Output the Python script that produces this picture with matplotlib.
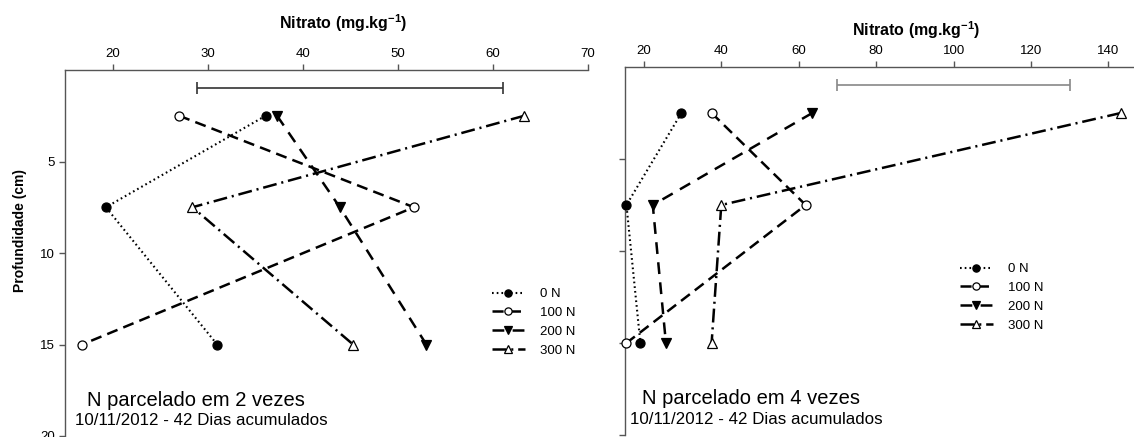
import matplotlib
matplotlib.use("Agg")
import matplotlib.pyplot as plt
import numpy as np

plt.rcParams['font.family'] = ['Liberation Sans', 'DejaVu Sans']
plt.rcParams['mathtext.fontset'] = 'custom'
plt.rcParams['mathtext.rm'] = 'Liberation Sans'
plt.rcParams['mathtext.bf'] = 'Liberation Sans:bold'
plt.rcParams['lines.scale_dashes'] = False

# ---- data ----
depth = [2.5, 7.5, 15]
series_labels = ['0 N', '100 N', '200 N', '300 N']

left_0N = [36.1, 19.3, 31.0]
left_100N = [27.0, 51.7, 16.8]
left_200N = [37.3, 43.9, 53.0]
left_300N = [63.3, 28.4, 45.3]

right_0N = [29.7, 15.5, 19.1]
right_100N = [37.5, 61.8, 15.5]
right_200N = [63.5, 22.3, 25.7]
right_300N = [143.2, 40.0, 37.5]

left_bar = [28.9, 61.1]
right_bar = [69.8, 130.0]
bar_depth = 1.0

left_xticks = [20, 30, 40, 50, 60, 70]
right_xticks = [20, 40, 60, 80, 100, 120, 140]
yticks = [5, 10, 15, 20]

left_text = ['N parcelado em 2 vezes', '10/11/2012 - 42 Dias acumulados']
right_text = ['N parcelado em 4 vezes', '10/11/2012 - 42 Dias acumulados']

# ---- styles ----
styles = [
    dict(linestyle=(0, (1.2, 2.2)), lw=1.5, marker='o', mfc='black', mec='black'),
    dict(linestyle=(0, (8, 4.5)), lw=1.8, marker='o', mfc='white', mec='black'),
    dict(linestyle=(0, (8.5, 6)), lw=1.8, marker='v', mfc='black', mec='black'),
    dict(linestyle=(0, (10, 3.5, 1.5, 3.5)), lw=1.8, marker='^', mfc='white', mec='black'),
]

W, H = 1134, 437
fig = plt.figure(figsize=(W / 100, H / 100), dpi=100)

def px_rect(x0, y_top, x1, y_bot):
    return [x0 / W, 1 - y_bot / H, (x1 - x0) / W, (y_bot - y_top) / H]

axL = fig.add_axes(px_rect(65, 70, 588, 436))
axR = fig.add_axes(px_rect(624.5, 67, 1134, 435))

spine_col = '#555555'

def setup(ax, xlim, xticks, show_ylabels):
    ax.set_xlim(*xlim)
    ax.set_ylim(20, 0)
    ax.xaxis.tick_top()
    ax.set_xticks(xticks)
    ax.set_yticks(yticks)
    for s in ['right', 'bottom']:
        ax.spines[s].set_visible(False)
    for s in ['left', 'top']:
        ax.spines[s].set_color(spine_col)
        ax.spines[s].set_linewidth(1.0)
    ax.tick_params(axis='both', direction='out', length=4, width=1.0,
                   color=spine_col, labelsize=9.5, pad=3)
    if not show_ylabels:
        ax.set_yticklabels([])

setup(axL, (15, 70), left_xticks, True)
setup(axR, (15, 146.6), right_xticks, False)

def draw(ax, series, bar, bar_col, leg_anchor, txt, txt_pos):
    lines = []
    for vals, st, lab in zip(series, styles, series_labels):
        ln, = ax.plot(vals, depth, color='black', linestyle=st['linestyle'],
                      lw=st['lw'], marker=st['marker'], markersize=6.5,
                      markerfacecolor=st['mfc'], markeredgecolor=st['mec'],
                      markeredgewidth=0.9, label=lab, clip_on=False, zorder=3)
        lines.append(ln)
    ax.errorbar([(bar[0] + bar[1]) / 2], [bar_depth], xerr=[(bar[1] - bar[0]) / 2],
                fmt='none', ecolor=bar_col, elinewidth=1.2, capsize=4, capthick=1.2)
    fig.legend(handles=lines, loc='upper left',
               bbox_to_anchor=(leg_anchor[0] / W, 1 - leg_anchor[1] / H),
               bbox_transform=fig.transFigure, frameon=False,
               fontsize=9.5, handlelength=2.5, handletextpad=1.1,
               labelspacing=0.5, borderpad=0, borderaxespad=0,
               markerscale=0.8)
    ax.text(txt_pos[0][0], txt_pos[0][1], txt[0], fontsize=14.5,
            ha='center', va='center')
    ax.text(txt_pos[1][0], txt_pos[1][1], txt[1], fontsize=12.2,
            ha='center', va='center')

draw(axL, [left_0N, left_100N, left_200N, left_300N], left_bar, '#333333',
     (492, 288), left_text, [(28.75, 18.07), (29.3, 19.16)])
draw(axR, [right_0N, right_100N, right_200N, right_300N], right_bar, '#888888',
     (960, 263), right_text, [(47.6, 18.03), (49.0, 19.17)])

title = r'Nitrato (mg.kg$^{\mathbf{-1}}$)'
fig.text(343 / W, 1 - 23 / H, title, fontsize=11.5, fontweight='bold',
         ha='center', va='center')
fig.text(916 / W, 1 - 30 / H, title, fontsize=11.5, fontweight='bold',
         ha='center', va='center')
fig.text(20 / W, 1 - 231 / H, 'Profundidade (cm)', fontsize=10, fontweight='bold',
         rotation=90, ha='center', va='center')

fig.savefig('out.png', dpi=100, facecolor='white')
